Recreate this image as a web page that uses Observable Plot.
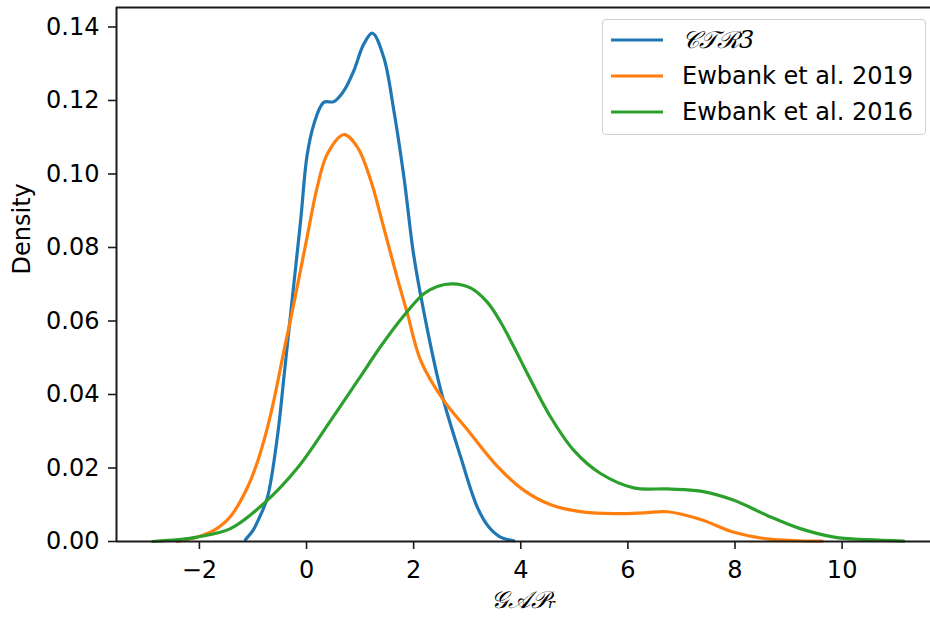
<!DOCTYPE html>
<html>
<head>
<meta charset="utf-8">
<script src="https://cdn.jsdelivr.net/npm/d3@7"></script>
<script src="https://cdn.jsdelivr.net/npm/@observablehq/plot@0.6"></script>
<style>
  html, body { margin: 0; padding: 0; background: #fff; overflow: hidden; }
  #wrap { position: relative; width: 930px; height: 619px; font-family: "DejaVu Sans", sans-serif; }
  #legend { position: absolute; left: 602px; top: 19px; width: 324px; height: 116px;
    border: 1.5px solid #d0d0d0; border-radius: 4px; background: rgba(255,255,255,0.85); box-sizing: border-box; }
  .row { position: absolute; left: 0; height: 36px; display: flex; align-items: center; }
  .row svg { margin-left: 8px; }
  .row span { margin-left: 19px; font-size: 24px; color: #000; white-space: nowrap; }
  .math { font-family: "DejaVu Serif", serif; font-style: italic; }
</style>
</head>
<body>
<div id="wrap"></div>
<script>
// ---- data ----
const seriesNames = ["CTR3", "Ewbank et al. 2019", "Ewbank et al. 2016"];

const ctr3X = [-1.14, -1.00, -0.88, -0.73, -0.54, -0.42, -0.27, -0.11, 0.01, 0.14, 0.32, 0.51, 0.70, 0.88, 1.07, 1.23, 1.44, 1.63, 1.82, 2.00, 2.19, 2.50, 2.88, 3.19, 3.40, 3.62, 3.87];
const ctr3Y = [0.0005, 0.0030, 0.0065, 0.0120, 0.0290, 0.0450, 0.0656, 0.0873, 0.1050, 0.1137, 0.1195, 0.1197, 0.1227, 0.1280, 0.1354, 0.1383, 0.1318, 0.1173, 0.0990, 0.0780, 0.0625, 0.0415, 0.0229, 0.0093, 0.0040, 0.0012, 0.0002];

const ew2019X = [-2.41, -2.04, -1.73, -1.42, -1.11, -0.92, -0.73, -0.61, -0.42, -0.24, 0.01, 0.20, 0.39, 0.70, 0.95, 1.20, 1.44, 1.69, 1.88, 2.13, 2.56, 3.00, 3.56, 4.06, 4.56, 5.18, 5.80, 6.30, 6.74, 7.36, 7.98, 8.60, 9.20, 9.63];
const ew2019Y = [0.0000, 0.0012, 0.0030, 0.0068, 0.0145, 0.0215, 0.0310, 0.0384, 0.0520, 0.0645, 0.0828, 0.0964, 0.1055, 0.1107, 0.1073, 0.0982, 0.0855, 0.0719, 0.0622, 0.0493, 0.0384, 0.0305, 0.0205, 0.0139, 0.0100, 0.0080, 0.0076, 0.0078, 0.0081, 0.0060, 0.0025, 0.0007, 0.0002, 0.0001];

const ew2016X = [-2.87, -2.40, -2.04, -1.42, -0.80, -0.17, 0.45, 0.98, 1.38, 1.82, 2.19, 2.44, 2.72, 3.06, 3.37, 3.62, 3.87, 4.12, 4.56, 4.99, 5.49, 6.11, 6.74, 7.36, 7.98, 8.60, 9.22, 9.85, 10.47, 11.15];
const ew2016Y = [0.0000, 0.0005, 0.0012, 0.0035, 0.0103, 0.0200, 0.0329, 0.0443, 0.0530, 0.0615, 0.0674, 0.0694, 0.0701, 0.0690, 0.0652, 0.0598, 0.0530, 0.0458, 0.0338, 0.0248, 0.0185, 0.0146, 0.0143, 0.0137, 0.0112, 0.0071, 0.0035, 0.0012, 0.0005, 0.0001];

const xTicks = [-2, 0, 2, 4, 6, 8, 10];
const yTicks = [0, 0.02, 0.04, 0.06, 0.08, 0.10, 0.12, 0.14];
const xLabel = "𝒢𝒜𝒫ᵣ";
const yLabel = "Density";

// ---- build ----
const colors = ["#1f77b4", "#ff7f0e", "#2ca02c"];
const toRows = (xs, ys, name) => xs.map((x, i) => ({x, y: ys[i], series: name}));
const sets = [
  toRows(ctr3X, ctr3Y, seriesNames[0]),
  toRows(ew2019X, ew2019Y, seriesNames[1]),
  toRows(ew2016X, ew2016Y, seriesNames[2])
];

const xDomain = [-3.548, 11.65];
const yDomain = [0, 0.1453];
const spine = "#1a1a1a";

const chart = Plot.plot({
  width: 930,
  height: 619,
  marginLeft: 116,
  marginRight: 0,
  marginTop: 7,
  marginBottom: 78,
  style: {fontFamily: "DejaVu Sans, sans-serif", fontSize: "24px", color: "#000", background: "#fff"},
  x: {domain: xDomain},
  y: {domain: yDomain},
  marks: [
    ...sets.map((d, i) => Plot.line(d, {x: "x", y: "y", stroke: colors[i], strokeWidth: 3.2, curve: "catmull-rom"})),
    Plot.axisX({ticks: xTicks, tickFormat: d3.format("d"), tickSize: 8, tickPadding: 11, fontSize: 24, strokeWidth: 1.6, stroke: spine, label: null}),
    Plot.axisY({ticks: yTicks, tickFormat: d3.format(".2f"), tickSize: 8, tickPadding: 9, fontSize: 24, strokeWidth: 1.6, stroke: spine, label: null}),
    Plot.ruleY([yDomain[0]], {stroke: spine, strokeWidth: 2}),
    Plot.ruleY([yDomain[1]], {stroke: spine, strokeWidth: 2}),
    Plot.ruleX([xDomain[0]], {stroke: spine, strokeWidth: 2}),
    Plot.text([yLabel], {frameAnchor: "left", dx: -94, rotate: -90, fontSize: 24, fill: "#000"}),
    Plot.text([xLabel], {frameAnchor: "bottom", dy: 66, fontSize: 24, fill: "#000", fontFamily: "DejaVu Serif, serif", fontStyle: "italic"})
  ]
});

const wrap = document.getElementById("wrap");
wrap.appendChild(chart);

// legend
const legend = document.createElement("div");
legend.id = "legend";
seriesNames.forEach((name, i) => {
  const row = document.createElement("div");
  row.className = "row";
  row.style.top = (2 + i * 36) + "px";
  row.innerHTML = `<svg width="52" height="6"><line x1="0" x2="52" y1="3" y2="3" stroke="${colors[i]}" stroke-width="3.2"/></svg>` +
    (i === 0 ? `<span class="math">𝒞𝒯ℛ3</span>` : `<span>${name}</span>`);
  legend.appendChild(row);
});
wrap.appendChild(legend);
</script>
</body>
</html>
